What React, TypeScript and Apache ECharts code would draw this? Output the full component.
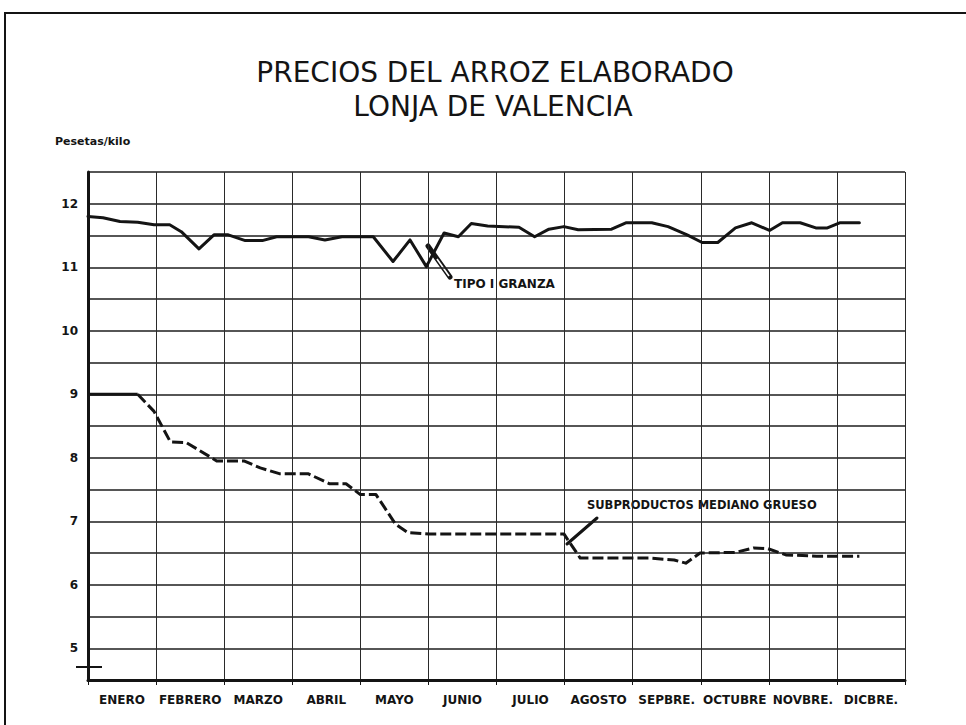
import React, { useEffect, useRef } from "react";
import * as echarts from "echarts";

// Month labels (category axis) and tick values
const months = ["ENERO", "FEBRERO", "MARZO", "ABRIL", "MAYO", "JUNIO", "JULIO", "AGOSTO", "SEPBRE.", "OCTUBRE", "NOVBRE.", "DICBRE."];

// TIPO I GRANZA (solid) — x in months from 1 January, y in pesetas/kilo
const granzaX = [0, 0.22, 0.47, 0.73, 0.97, 1.2, 1.37, 1.63, 1.85, 2.06, 2.31, 2.56, 2.77, 3.24, 3.48, 3.73, 4.19, 4.48, 4.73, 4.97, 5.23, 5.44, 5.63, 5.87, 6.33, 6.56, 6.77, 6.99, 7.2, 7.69, 7.9, 8.28, 8.52, 8.8, 9.02, 9.25, 9.51, 9.75, 10.01, 10.2, 10.46, 10.69, 10.86, 11.04, 11.33];
const granzaY = [11.8, 11.78, 11.72, 11.71, 11.67, 11.67, 11.56, 11.29, 11.51, 11.51, 11.42, 11.42, 11.48, 11.48, 11.43, 11.48, 11.48, 11.09, 11.43, 11.01, 11.54, 11.48, 11.69, 11.65, 11.63, 11.48, 11.6, 11.64, 11.59, 11.6, 11.7, 11.7, 11.64, 11.51, 11.39, 11.39, 11.62, 11.7, 11.58, 11.7, 11.7, 11.62, 11.62, 11.7, 11.7];

// SUBPRODUCTOS MEDIANO GRUESO (dashed)
const subX = [0, 0.73, 0.97, 1.21, 1.44, 1.63, 1.89, 2.29, 2.53, 2.81, 3.23, 3.55, 3.79, 4.0, 4.23, 4.52, 4.7, 5.01, 5.87, 6.99, 7.23, 8.24, 8.61, 8.78, 8.99, 9.51, 9.78, 9.98, 10.25, 10.7, 11.33];
const subY = [9.0, 9.0, 8.73, 8.25, 8.24, 8.12, 7.95, 7.95, 7.84, 7.75, 7.75, 7.59, 7.59, 7.42, 7.42, 6.95, 6.82, 6.8, 6.8, 6.8, 6.42, 6.42, 6.39, 6.34, 6.5, 6.51, 6.58, 6.57, 6.47, 6.45, 6.45];

const yMin = 4.5;
const yMax = 12.5;
const yStep = 0.5;

const INK = "#141414";
const BOLD_FONT = "DejaVu Sans";

export default function App() {
  const ref = useRef<HTMLDivElement>(null);

  useEffect(() => {
    if (!ref.current) return;
    const chart = echarts.init(ref.current, undefined, { renderer: "svg" });

    const granza = granzaX.map((x, i) => [x, granzaY[i]]);
    const sub = subX.map((x, i) => [x, subY[i]]);

    chart.setOption({
      animation: false,
      backgroundColor: "#ffffff",
      grid: { left: 88, right: 61, top: 172, bottom: 45, containLabel: false },
      xAxis: [
        {
          type: "value",
          min: 0,
          max: 12,
          interval: 1,
          position: "bottom",
          axisLine: { show: true, onZero: false, lineStyle: { color: INK, width: 3 } },
          axisTick: { show: true, length: 5, lineStyle: { color: INK, width: 1 } },
          axisLabel: { show: false },
          splitLine: { show: true, lineStyle: { color: "#2a2a2a", width: 1 } },
        },
        {
          type: "category",
          data: months,
          position: "bottom",
          boundaryGap: true,
          axisLine: { show: false },
          axisTick: { show: false },
          splitLine: { show: false },
          axisLabel: {
            show: true,
            interval: 0,
            margin: 14,
            color: INK,
            fontFamily: BOLD_FONT,
            fontWeight: "bold",
            fontSize: 12,
          },
        },
      ],
      yAxis: {
        type: "value",
        min: yMin,
        max: yMax,
        interval: yStep,
        axisLine: { show: true, onZero: false, lineStyle: { color: INK, width: 3 } },
        axisTick: { show: false },
        axisLabel: {
          margin: 10,
          color: INK,
          fontFamily: BOLD_FONT,
          fontWeight: "bold",
          fontSize: 12,
          formatter: (v: number) => {
            const r = Math.round(v);
            return Math.abs(v - r) < 1e-6 && r >= 5 && r <= 12 ? String(r) : "";
          },
        },
        splitLine: { show: true, lineStyle: { color: "#1e1e1e", width: 1.5 } },
      },
      series: [
        {
          name: "TIPO I GRANZA",
          type: "line",
          xAxisIndex: 0,
          data: granza,
          showSymbol: false,
          lineStyle: { color: INK, width: 3, join: "round", cap: "round" },
        },
        {
          name: "SUBPRODUCTOS MEDIANO GRUESO (inicio)",
          type: "line",
          xAxisIndex: 0,
          data: sub.slice(0, 2),
          showSymbol: false,
          lineStyle: { color: INK, width: 3 },
        },
        {
          name: "SUBPRODUCTOS MEDIANO GRUESO",
          type: "line",
          xAxisIndex: 0,
          data: sub.slice(1),
          showSymbol: false,
          lineStyle: { color: INK, width: 3, type: [11, 4], join: "round" },
        },
      ],
      graphic: [
        {
          type: "rect",
          shape: { x: 5, y: 13, width: 990, height: 740 },
          style: { fill: "none", stroke: INK, lineWidth: 2 },
          silent: true,
        },
        {
          type: "text",
          x: 495,
          y: 72,
          style: {
            text: "PRECIOS DEL ARROZ ELABORADO",
            fill: INK,
            font: "normal 28px 'DejaVu Sans', sans-serif",
            textAlign: "center",
            textVerticalAlign: "middle",
          },
        },
        {
          type: "text",
          x: 493,
          y: 106,
          style: {
            text: "LONJA DE VALENCIA",
            fill: INK,
            font: "normal 28px 'DejaVu Sans', sans-serif",
            textAlign: "center",
            textVerticalAlign: "middle",
          },
        },
        {
          type: "text",
          x: 55,
          y: 141,
          style: {
            text: "Pesetas/kilo",
            fill: INK,
            font: "bold 11px 'DejaVu Sans', sans-serif",
            textAlign: "left",
            textVerticalAlign: "middle",
          },
        },
        // small cross mark on the y axis
        {
          type: "line",
          shape: { x1: 76, y1: 667, x2: 102, y2: 667 },
          style: { stroke: INK, lineWidth: 2 },
        },
        // TIPO I GRANZA pointer
        {
          type: "line",
          shape: { x1: 428, y1: 246, x2: 450, y2: 277 },
          style: { stroke: INK, lineWidth: 5, lineCap: "round" },
        },
        {
          type: "line",
          shape: { x1: 437, y1: 259, x2: 449, y2: 276 },
          style: { stroke: "#ffffff", lineWidth: 1.6 },
        },
        {
          type: "text",
          x: 454,
          y: 284,
          style: {
            text: "TIPO I GRANZA",
            fill: INK,
            font: "bold 12px 'DejaVu Sans', sans-serif",
            textAlign: "left",
            textVerticalAlign: "middle",
          },
        },
        // SUBPRODUCTOS pointer
        {
          type: "line",
          shape: { x1: 567, y1: 544, x2: 597, y2: 518 },
          style: { stroke: INK, lineWidth: 3, lineCap: "round" },
        },
        {
          type: "text",
          x: 587,
          y: 505,
          style: {
            text: "SUBPRODUCTOS MEDIANO GRUESO",
            fill: INK,
            font: "bold 11.5px 'DejaVu Sans', sans-serif",
            textAlign: "left",
            textVerticalAlign: "middle",
          },
        },
      ],
    });

    return () => chart.dispose();
  }, []);

  return (
    <div
      ref={ref}
      style={{ position: "fixed", left: 0, top: 0, width: 966, height: 725, background: "#fff" }}
    />
  );
}
